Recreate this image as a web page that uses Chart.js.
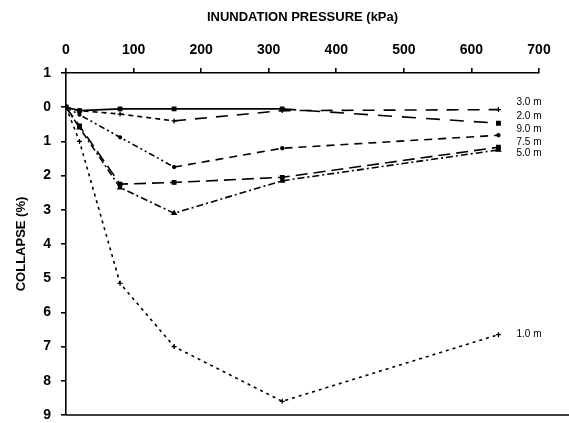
<!DOCTYPE html>
<html>
<head>
<meta charset="utf-8">
<script src="https://cdn.jsdelivr.net/npm/chart.js@4"></script>
<style>
  body { margin: 0; background: #fff; }
</style>
</head>
<body>
<canvas id="collapseChart" width="569" height="423"></canvas>
<script>
  // inundation pressure steps (kPa)
  const pressure = [0, 20, 80, 160, 320, 640];

  // collapse (%) per sample depth
  const depthLabels = ["3.0 m", "2.0 m", "9.0 m", "7.5 m", "5.0 m", "1.0 m"];
  const collapse30 = [0, 0.1, 0.2, 0.4, 0.1, 0.07];
  const collapse20 = [0, 0.1, 0.05, 0.05, 0.05, 0.47];
  const collapse90 = [0, 0.22, 0.88, 1.75, 1.2, 0.82];
  const collapse75 = [0, 0.55, 2.25, 2.2, 2.05, 1.17];
  const collapse50 = [0, 0.6, 2.35, 3.1, 2.15, 1.25];
  const collapse10 = [0, 1.0, 5.15, 7.0, 8.6, 6.65];

  const xTicks = [0, 100, 200, 300, 400, 500, 600, 700];
  const yTickLabels = ["1", "0", "1", "2", "3", "4", "5", "6", "7", "8", "9"];

  const toPoints = (vals) => vals.map((v, i) => ({ x: pressure[i], y: v }));

  const tickFont = { family: "Liberation Sans", size: 14, weight: "bold" };
  const titleFont = { family: "Liberation Sans", size: 13, weight: "bold" };

  // depth labels at the end of each line
  const endLabels = {
    id: "endLabels",
    afterDatasetsDraw(chart, args, opts) {
      const ctx = chart.ctx;
      ctx.save();
      ctx.fillStyle = "#000";
      ctx.font = "10px 'Liberation Sans'";
      ctx.textBaseline = "middle";
      chart.data.datasets.forEach((ds, i) => {
        const pts = chart.getDatasetMeta(i).data;
        const last = pts[pts.length - 1];
        ctx.fillText(ds.label, last.x + 18, last.y + opts.offsets[i]);
      });
      ctx.restore();
    },
  };

  // closing line along the bottom of the plot
  const bottomLine = {
    id: "bottomLine",
    afterDraw(chart) {
      const { ctx, chartArea } = chart;
      ctx.save();
      ctx.strokeStyle = "#000";
      ctx.lineWidth = 1.6;
      ctx.beginPath();
      ctx.moveTo(chartArea.left, chartArea.bottom);
      ctx.lineTo(chart.width, chartArea.bottom);
      ctx.stroke();
      ctx.restore();
    },
  };

  const base = {
    borderColor: "#000",
    backgroundColor: "#000",
    borderWidth: 1.6,
    pointRadius: 2.5,
    pointBorderWidth: 1.3,
    fill: false,
    tension: 0,
  };

  new Chart(document.getElementById("collapseChart"), {
    type: "line",
    data: {
      datasets: [
        {
          ...base,
          label: depthLabels[0],
          data: toPoints(collapse30),
          pointStyle: "cross",
          borderDash: [5, 4],
          segment: { borderDash: (c) => (c.p0DataIndex >= 3 ? [12, 9] : [5, 4]) },
        },
        {
          ...base,
          label: depthLabels[1],
          data: toPoints(collapse20),
          pointStyle: "rect",
          segment: { borderDash: (c) => (c.p0DataIndex >= 4 ? [14, 10] : []) },
        },
        {
          ...base,
          label: depthLabels[2],
          data: toPoints(collapse90),
          pointStyle: "circle",
          pointRadius: 1.5,
          borderDash: [6, 3, 2, 3, 2, 3],
          segment: { borderDash: (c) => (c.p0DataIndex >= 3 ? [8, 6] : [6, 3, 2, 3, 2, 3]) },
        },
        {
          ...base,
          label: depthLabels[3],
          data: toPoints(collapse75),
          pointStyle: "rect",
          borderDash: [12, 6],
        },
        {
          ...base,
          label: depthLabels[4],
          data: toPoints(collapse50),
          pointStyle: "triangle",
          borderDash: [7, 3, 2, 3],
        },
        {
          ...base,
          label: depthLabels[5],
          data: toPoints(collapse10),
          pointStyle: "cross",
          borderDash: [3, 4],
        },
      ],
    },
    options: {
      responsive: false,
      animation: false,
      devicePixelRatio: 1,
      layout: { padding: { top: 0, left: 0, right: 30, bottom: 8 } },
      plugins: {
        legend: { display: false },
        tooltip: { enabled: false },
        endLabels: { offsets: [-7, -7, -6, -5, 3, 0] },
      },
      scales: {
        x: {
          type: "linear",
          position: "top",
          min: 0,
          max: 700,
          afterBuildTicks: (s) => { s.ticks = xTicks.map((v) => ({ value: v })); },
          afterFit: (s) => { s.height = 73; s.paddingLeft = 0; s.paddingRight = 0; },
          ticks: { color: "#000", font: tickFont, padding: 9 },
          grid: { drawOnChartArea: false, color: "#000", tickLength: 5, lineWidth: 1.6 },
          border: { color: "#000", width: 1.6 },
          title: {
            display: true,
            text: "INUNDATION PRESSURE (kPa)",
            color: "#000",
            font: titleFont,
            padding: { top: 10, bottom: 0 },
          },
        },
        y: {
          type: "linear",
          min: -1,
          max: 9,
          reverse: true,
          afterFit: (s) => { s.width = 66; s.paddingTop = 0; s.paddingBottom = 0; },
          ticks: {
            stepSize: 1,
            color: "#000",
            font: tickFont,
            padding: 10,
            callback: (v) => yTickLabels[Math.round(v) + 1],
          },
          grid: { drawOnChartArea: false, color: "#000", tickLength: 5, lineWidth: 1.6 },
          border: { color: "#000", width: 1.6 },
          title: {
            display: true,
            text: "COLLAPSE (%)",
            color: "#000",
            font: titleFont,
            padding: { top: 14, bottom: 0 },
          },
        },
      },
    },
    plugins: [endLabels, bottomLine],
  });
</script>
</body>
</html>
